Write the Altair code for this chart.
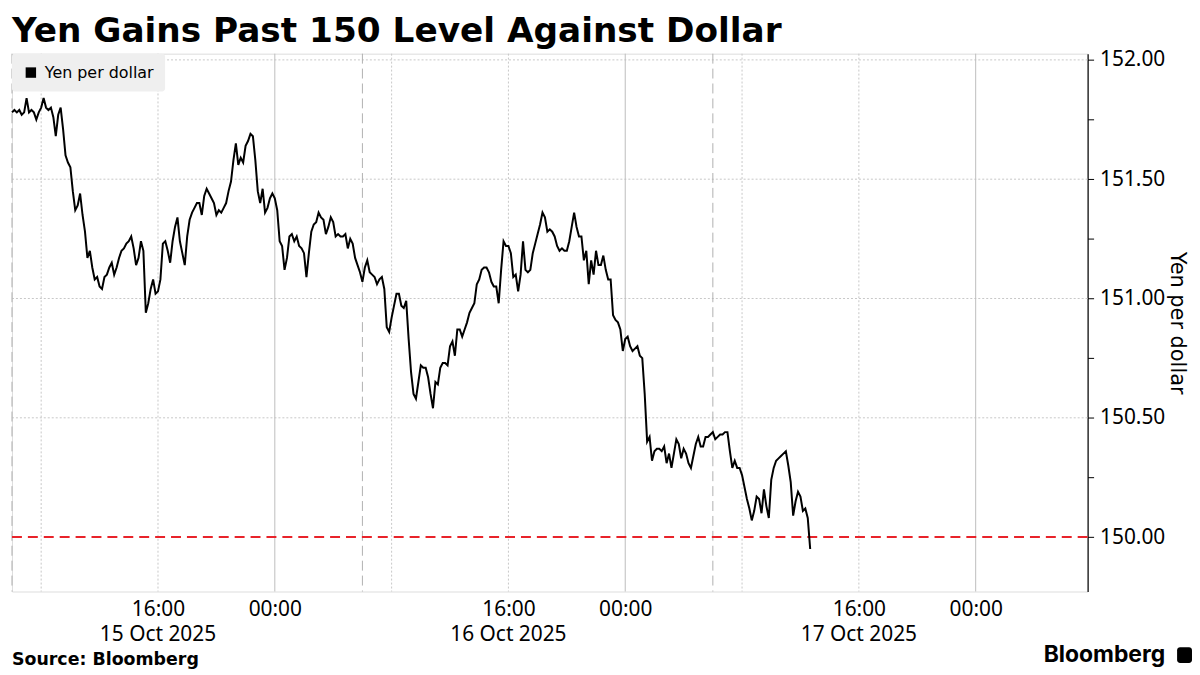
import altair as alt
import pandas as pd

# ---- data ----
series_name = "Yen per dollar"
start_time = "2025-10-15 06:00"
step = "10min"
usd_jpy = [
    151.78, 151.79, 151.78, 151.79, 151.77, 151.78, 151.84, 151.78, 151.79, 151.78,
    151.75, 151.78, 151.80, 151.84, 151.80, 151.79, 151.80, 151.76, 151.68, 151.77,
    151.80, 151.71, 151.60, 151.57, 151.55, 151.45, 151.37, 151.39, 151.44, 151.35,
    151.28, 151.17, 151.20, 151.13, 151.08, 151.09, 151.05, 151.04, 151.09, 151.10,
    151.13, 151.15, 151.10, 151.13, 151.17, 151.20, 151.21, 151.23, 151.24, 151.26,
    151.21, 151.14, 151.17, 151.24, 151.20, 150.94, 150.98, 151.04, 151.08, 151.02,
    151.03, 151.08, 151.23, 151.24, 151.20, 151.15, 151.24, 151.30, 151.34, 151.24,
    151.19, 151.14, 151.26, 151.33, 151.36, 151.38, 151.40, 151.40, 151.35, 151.43,
    151.46, 151.44, 151.42, 151.40, 151.35, 151.37, 151.36, 151.38, 151.40, 151.45,
    151.49, 151.58, 151.65, 151.56, 151.59, 151.57, 151.64, 151.66, 151.69, 151.68,
    151.58, 151.45, 151.40, 151.46, 151.36, 151.38, 151.42, 151.44, 151.42, 151.37,
    151.24, 151.22, 151.12, 151.17, 151.26, 151.27, 151.24, 151.26, 151.22, 151.21,
    151.19, 151.09, 151.19, 151.28, 151.31, 151.32, 151.36, 151.34, 151.33, 151.27,
    151.30, 151.34, 151.32, 151.26, 151.27, 151.26, 151.26, 151.27, 151.21, 151.25,
    151.23, 151.17, 151.14, 151.11, 151.07, 151.13, 151.16, 151.11, 151.10, 151.09,
    151.06, 151.08, 151.09, 151.04, 150.88, 150.86, 150.92, 150.97, 151.02, 151.02,
    150.97, 150.96, 150.99, 150.83, 150.69, 150.60, 150.58, 150.65, 150.72, 150.71,
    150.71, 150.67, 150.60, 150.54, 150.65, 150.64, 150.71, 150.73, 150.73, 150.72,
    150.80, 150.82, 150.76, 150.87, 150.87, 150.84, 150.87, 150.90, 150.94, 150.96,
    150.98, 151.06, 151.08, 151.12, 151.13, 151.13, 151.11, 151.07, 151.05, 151.05,
    150.98, 151.12, 151.24, 151.22, 151.22, 151.19, 151.09, 151.10, 151.03, 151.10,
    151.24, 151.12, 151.11, 151.12, 151.19, 151.23, 151.27, 151.31, 151.36, 151.34,
    151.28, 151.29, 151.28, 151.26, 151.22, 151.20, 151.21, 151.20, 151.20, 151.24,
    151.30, 151.36, 151.30, 151.26, 151.26, 151.16, 151.20, 151.06, 151.16, 151.10,
    151.20, 151.14, 151.14, 151.18, 151.12, 151.08, 151.08, 150.93, 150.91, 150.90,
    150.87, 150.78, 150.83, 150.84, 150.80, 150.78, 150.79, 150.80, 150.76, 150.75,
    150.60, 150.40, 150.42, 150.32, 150.36, 150.37, 150.37, 150.36, 150.38, 150.31,
    150.35, 150.29, 150.35, 150.41, 150.39, 150.33, 150.37, 150.35, 150.31, 150.29,
    150.34, 150.39, 150.42, 150.38, 150.38, 150.42, 150.42, 150.43, 150.44, 150.41,
    150.42, 150.43, 150.43, 150.44, 150.44, 150.36, 150.29, 150.32, 150.29, 150.29,
    150.26, 150.21, 150.16, 150.12, 150.07, 150.11, 150.17, 150.16, 150.10, 150.20,
    150.13, 150.08, 150.24, 150.29, 150.32, 150.33, 150.34, 150.35, 150.36, 150.30,
    150.23, 150.09, 150.15, 150.19, 150.17, 150.11, 150.12, 150.08, 149.95,
]
x_domain = ["2025-10-15T06:00:00Z", "2025-10-18T07:40:00Z"]
y_domain = [149.772, 152.026]
y_ticks = [150.0, 150.25, 150.5, 150.75, 151.0, 151.25, 151.5, 151.75, 152.0]
y_grid = [150.5, 151.0, 151.5, 152.0]
threshold = [150.0]
x_label_times = [
    "2025-10-15T16:00:00Z", "2025-10-16T00:00:00Z",
    "2025-10-16T16:00:00Z", "2025-10-17T00:00:00Z",
    "2025-10-17T16:00:00Z", "2025-10-18T00:00:00Z",
]
date_label_times = ["2025-10-15T16:00:00Z", "2025-10-16T16:00:00Z", "2025-10-17T16:00:00Z"]
date_labels = ["15 Oct 2025", "16 Oct 2025", "17 Oct 2025"]
dotted_times = [
    "2025-10-15T08:00:00Z", "2025-10-15T16:00:00Z",
    "2025-10-16T08:00:00Z", "2025-10-16T16:00:00Z",
    "2025-10-17T08:00:00Z", "2025-10-17T16:00:00Z",
]
midnight_times = ["2025-10-16T00:00:00Z", "2025-10-17T00:00:00Z", "2025-10-18T00:00:00Z"]
session_times = ["2025-10-15T06:00:00Z", "2025-10-16T06:00:00Z", "2025-10-17T06:00:00Z"]

# ---- tables ----
times = pd.date_range(start_time, periods=len(usd_jpy), freq=step).strftime("%Y-%m-%dT%H:%M:%SZ")
line_df = pd.DataFrame({"t": times, "v": usd_jpy, "series": series_name})
ygrid_df = pd.DataFrame({"v": y_grid})
thr_df = pd.DataFrame({"v": threshold})
dot_df = pd.DataFrame({"t": dotted_times})
mid_df = pd.DataFrame({"t": midnight_times})
ses_df = pd.DataFrame({"t": session_times})
date_df = pd.DataFrame({"t": date_label_times, "label": date_labels})

LABEL_FONT = "Noto Sans"
WIDE_FONT = "DejaVu Sans"
W, H = 1082, 541

x_scale = alt.Scale(type="utc", domain=x_domain)
y_scale = alt.Scale(domain=y_domain, zero=False, nice=False)

x_axis = alt.Axis(
    values=[pd.Timestamp(s).value // 10**6 for s in x_label_times],
    labelExpr="utcFormat(datum.value, '%H:%M')",
    grid=False, domain=False, ticks=False, title=None,
    labelFont=LABEL_FONT, labelFontSize=21, labelColor="black",
    labelPadding=7, labelAlign="center", labelFlush=False,
)
y_axis = alt.Axis(
    orient="right", values=y_ticks,
    labelExpr="(datum.value * 2) % 1 == 0 ? format(datum.value, '.2f') : ''",
    grid=False, domain=True, domainColor="black", domainWidth=1.2,
    ticks=True, tickColor="black", tickSize=6,
    labelFont=LABEL_FONT, labelFontSize=21, labelColor="black", labelPadding=6,
    title="Yen per dollar", titleFont=WIDE_FONT, titleFontSize=21,
    titleFontWeight="normal", titleColor="black", titlePadding=2,
)

X = alt.X("t:T", scale=x_scale, axis=x_axis)
Y = alt.Y("v:Q", scale=y_scale, axis=y_axis)

hgrid = alt.Chart(ygrid_df).mark_rule(color="#c8c8c8", strokeDash=[2, 2], strokeWidth=1).encode(y=Y)
vdot = alt.Chart(dot_df).mark_rule(color="#c8c8c8", strokeDash=[2, 2], strokeWidth=1).encode(x=X)
vmid = alt.Chart(mid_df).mark_rule(color="#bdbdbd", strokeWidth=1).encode(x=X)
vses = alt.Chart(ses_df).mark_rule(color="#b0b0b0", strokeDash=[10, 5], strokeWidth=1).encode(x=X)
thr = alt.Chart(thr_df).mark_rule(color="#e8232a", strokeDash=[10, 6], strokeWidth=2).encode(y=Y)

line = alt.Chart(line_df).mark_line(strokeWidth=2, interpolate="linear").encode(
    x=X, y=Y,
    color=alt.Color(
        "series:N",
        scale=alt.Scale(domain=[series_name], range=["black"]),
        legend=alt.Legend(
            title=None, orient="top-left", offset=0, fillColor="#efefef",
            padding=11, cornerRadius=3, symbolType="square", symbolSize=110,
            symbolFillColor="black", symbolStrokeColor="black", symbolStrokeWidth=0,
            labelFont=WIDE_FONT, labelFontSize=16, labelColor="black", labelOffset=6,
        ),
    ),
)

dates = alt.Chart(date_df).mark_text(
    font=LABEL_FONT, fontSize=21, color="black", align="center", baseline="alphabetic",
).encode(x=X, y=alt.value(591), text="label:N")

one = pd.DataFrame({"k": [0]})
source = alt.Chart(one).mark_text(
    text="Source: Bloomberg", font=WIDE_FONT, fontWeight="bold", fontSize=17.5,
    align="left", baseline="alphabetic", color="black",
).encode(x=alt.value(0), y=alt.value(615))
brand = alt.Chart(one).mark_text(
    text="Bloomberg", font="Inter", fontWeight="bold", fontSize=23,
    align="right", baseline="alphabetic", color="black",
).encode(x=alt.value(1160), y=alt.value(612))
icon = alt.Chart(one).mark_rect(color="black", cornerRadius=3).encode(
    x=alt.value(1172), x2=alt.value(1187), y=alt.value(597), y2=alt.value(613)
)

chart = alt.layer(hgrid, vdot, vmid, vses, thr, line, dates, source, brand, icon).properties(
    width=W, height=H,
    padding={"left": 0, "top": 3, "right": 0, "bottom": 0},
    title=alt.TitleParams(
        "Yen Gains Past 150 Level Against Dollar", anchor="start", frame="group",
        font=WIDE_FONT, fontSize=34.5, fontWeight="bold", color="black", offset=0,
    ),
).configure_view(stroke=None).configure(background="white")

chart.save("out.html", embed_options={"renderer": "svg", "actions": False})
